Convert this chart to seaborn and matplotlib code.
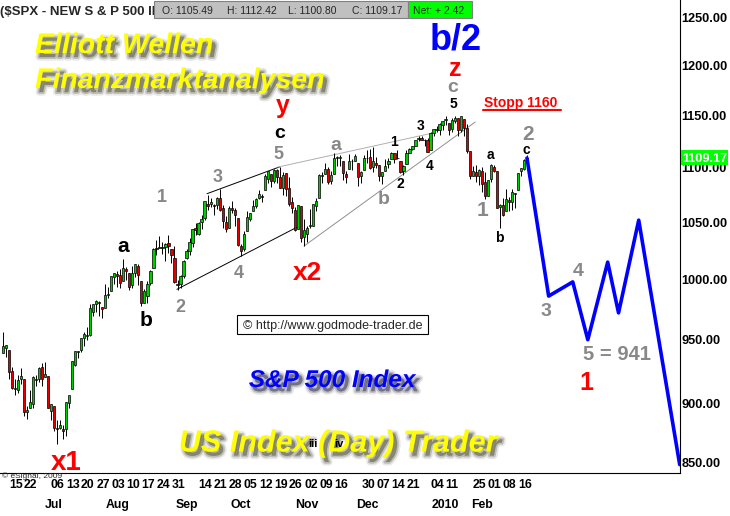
import numpy as np
import pandas as pd
import matplotlib
matplotlib.use("Agg")
import matplotlib.pyplot as plt
import matplotlib.patheffects as pe
from matplotlib.patches import Rectangle
from matplotlib.lines import Line2D
from matplotlib.ticker import NullLocator, NullFormatter
import seaborn as sns

# ---------------- data ----------------
holidays = ["2009-07-03", "2009-09-07", "2009-11-26", "2009-12-25",
            "2010-01-01", "2010-01-18", "2010-02-15"]
dates = [d for d in pd.bdate_range("2009-06-11", "2010-02-19")
         if d.strftime("%Y-%m-%d") not in holidays]

opens = [
    939, 943, 942, 925, 911, 910, 919, 919, 893, 896, 899, 918, 919, 928,
    920, 921, 894, 898, 881, 881, 880, 880, 900, 911, 930, 940, 942, 951, 953, 954, 973, 979, 981, 977, 976, 987,
    990, 1002, 1005, 1004, 999, 1009, 1006, 995, 1006, 1012, 999, 980, 986, 997, 1010, 1027, 1027, 1027, 1028, 1032, 1026,
    1019, 996, 996, 1003, 1019, 1025, 1032, 1045, 1040, 1050, 1054, 1067, 1067, 1066, 1066, 1072, 1063, 1050, 1045, 1063, 1061,
    1054, 1029, 1026, 1042, 1053, 1060, 1065, 1072, 1074, 1079, 1090, 1094, 1088, 1098, 1091, 1081, 1095, 1081, 1068, 1061, 1044, 1065,
    1037, 1040, 1047, 1047, 1065, 1072, 1092, 1094, 1099, 1088, 1094, 1109, 1109, 1106, 1094, 1099, 1106, 1106, 1105, 1092,
    1098, 1109, 1110, 1101, 1105, 1103, 1092, 1097, 1104, 1108, 1114, 1109, 1106, 1097, 1104, 1114, 1118, 1121, 1127, 1128, 1126, 1126,
    1117, 1133, 1136, 1136, 1141, 1146, 1143, 1137, 1145, 1148, 1136, 1147, 1138, 1116, 1092, 1096, 1092, 1097, 1087,
    1074, 1090, 1101, 1097, 1064, 1066, 1060, 1070, 1068, 1076, 1079, 1097, 1099, 1105,
]
highs = [
    956, 946, 942, 928, 919, 922, 927, 919, 898, 910, 921, 922, 928, 931,
    932, 921, 899, 898, 887, 887, 883, 901, 905, 933, 941, 941, 951, 956, 960, 979, 979, 983, 982, 977, 996, 994,
    1003, 1006, 1007, 1009, 1018, 1011, 1006, 1012, 1013, 1013, 999, 992, 999, 1008, 1027, 1034, 1038, 1033, 1032, 1039, 1026,
    1029, 1000, 1004, 1017, 1026, 1036, 1044, 1049, 1050, 1057, 1068, 1075, 1072, 1067, 1073, 1080, 1066, 1056, 1065, 1069, 1063,
    1054, 1031, 1042, 1060, 1058, 1070, 1072, 1079, 1076, 1094, 1097, 1094, 1099, 1099, 1101, 1096, 1095, 1091, 1073, 1064, 1066, 1065,
    1053, 1047, 1062, 1067, 1072, 1094, 1096, 1105, 1101, 1097, 1114, 1111, 1112, 1106, 1097, 1113, 1108, 1113, 1105, 1097,
    1112, 1117, 1118, 1120, 1110, 1103, 1096, 1108, 1109, 1115, 1114, 1117, 1106, 1103, 1117, 1119, 1121, 1126, 1130, 1130, 1127, 1128,
    1134, 1137, 1140, 1143, 1145, 1150, 1143, 1148, 1150, 1148, 1150, 1147, 1142, 1116, 1102, 1103, 1099, 1101, 1096,
    1089, 1104, 1103, 1097, 1067, 1072, 1080, 1073, 1080, 1077, 1095, 1100, 1108, 1112,
]
lows = [
    939, 936, 919, 911, 906, 908, 915, 890, 888, 896, 896, 913, 916, 913,
    920, 896, 887, 879, 869, 880, 873, 875, 896, 911, 929, 935, 940, 945, 950, 953, 969, 973, 969, 968, 976, 984,
    990, 996, 994, 993, 999, 1000, 991, 993, 1002, 995, 978, 980, 980, 995, 1010, 1021, 1027, 1022, 1016, 1023, 1014,
    997, 991, 993, 1001, 1018, 1021, 1028, 1039, 1039, 1044, 1052, 1061, 1064, 1057, 1062, 1060, 1045, 1041, 1045, 1058, 1047,
    1029, 1020, 1025, 1042, 1051, 1060, 1063, 1071, 1068, 1079, 1086, 1082, 1086, 1086, 1081, 1075, 1074, 1065, 1058, 1042, 1044, 1033,
    1029, 1033, 1045, 1047, 1060, 1072, 1086, 1094, 1085, 1085, 1094, 1102, 1102, 1089, 1086, 1099, 1098, 1106, 1083, 1086,
    1098, 1105, 1099, 1096, 1100, 1088, 1085, 1097, 1100, 1108, 1105, 1108, 1095, 1093, 1104, 1114, 1117, 1121, 1125, 1126, 1121, 1115,
    1117, 1130, 1134, 1131, 1136, 1141, 1131, 1134, 1143, 1130, 1134, 1130, 1114, 1090, 1092, 1087, 1084, 1078, 1071,
    1074, 1087, 1096, 1063, 1045, 1056, 1060, 1060, 1061, 1063, 1079, 1092, 1098, 1101,
]
closes = [
    945, 946, 924, 912, 911, 918, 921, 893, 895, 901, 920, 919, 927, 919,
    923, 896, 899, 881, 880, 883, 879, 901, 906, 933, 941, 940, 951, 955, 954, 976, 979, 982, 980, 975, 987, 987,
    1003, 1006, 1003, 997, 1010, 1007, 994, 1006, 1013, 1004, 980, 990, 996, 1007, 1026, 1026, 1028, 1028, 1031, 1029, 1021,
    998, 995, 1003, 1016, 1025, 1033, 1044, 1043, 1049, 1053, 1069, 1065, 1068, 1065, 1072, 1061, 1051, 1044, 1063, 1061, 1057,
    1030, 1025, 1040, 1055, 1058, 1065, 1071, 1076, 1073, 1092, 1097, 1088, 1098, 1091, 1081, 1093, 1080, 1067, 1063, 1043, 1066, 1036,
    1043, 1045, 1047, 1067, 1069, 1093, 1093, 1099, 1087, 1093, 1109, 1110, 1110, 1095, 1091, 1106, 1106, 1111, 1091, 1096,
    1109, 1109, 1100, 1106, 1103, 1092, 1096, 1102, 1106, 1114, 1108, 1109, 1096, 1102, 1114, 1118, 1121, 1126, 1128, 1126, 1126, 1115,
    1133, 1137, 1137, 1142, 1145, 1147, 1136, 1146, 1148, 1136, 1150, 1138, 1116, 1092, 1097, 1092, 1098, 1085, 1074,
    1089, 1103, 1097, 1063, 1066, 1057, 1071, 1068, 1078, 1076, 1095, 1100, 1107, 1109,
]

week_tick_dates = ["2009-06-15", "2009-06-22", "2009-07-06", "2009-07-13", "2009-07-20", "2009-07-27",
                   "2009-08-03", "2009-08-10", "2009-08-17", "2009-08-24", "2009-08-31", "2009-09-14",
                   "2009-09-21", "2009-09-28", "2009-10-05", "2009-10-12", "2009-10-19", "2009-10-26",
                   "2009-11-02", "2009-11-09", "2009-11-16", "2009-11-30", "2009-12-07", "2009-12-14",
                   "2009-12-21", "2010-01-04", "2010-01-11", "2010-01-25", "2010-02-01", "2010-02-08",
                   "2010-02-16"]
week_tick_labels = ["15", "22", "06", "13", "20", "27", "03", "10", "17", "24", "31", "14", "21", "28",
                    "05", "12", "19", "26", "02", "09", "16", "30", "07", "14", "21", "04", "11", "25",
                    "01", "08", "16"]
month_label_dates = ["2009-07-07", "2009-08-05", "2009-09-08", "2009-10-02", "2009-11-03",
                     "2009-12-02", "2010-01-11", "2010-01-28"]
month_labels = ["Jul", "Aug", "Sep", "Oct", "Nov", "Dec", "2010", "Feb"]
y_ticks = [850, 900, 950, 1000, 1050, 1100, 1150, 1200, 1250]

# projected wave path (trading-day index, price)
proj_idx = [174, 181.2, 189.2, 194.2, 200.8, 204.4, 211.1, 224.7]
proj_price = [1109.17, 986, 998, 950, 1015, 972, 1052, 854]

# channel / trend lines (trading-day index, price)
black_lower = ([57.8, 97.6], [991.7, 1045.6])
black_upper = ([67.8, 92.0], [1076, 1101])
gray_upper = ([91.3, 142.5], [1100.7, 1133])
gray_lower = ([100.0, 156.8], [1029, 1143.8])

# ---------------- figure ----------------
sns.set_theme(style="white")
plt.rcParams["font.family"] = ["Liberation Sans", "DejaVu Sans"]

W, H = 730, 516
fig = plt.figure(figsize=(W / 100, H / 100), dpi=100)
fig.patch.set_facecolor("white")
ax = fig.add_axes([0, 43 / H, 680 / W, 473 / H])
ax.set_facecolor("white")

df = pd.DataFrame({"date": dates, "open": opens, "high": highs, "low": lows, "close": closes})
df["i"] = np.arange(len(df))
pos = {d: i for i, d in enumerate(df["date"])}
up = df["close"] >= df["open"]

ax.vlines(df["i"], df["low"], df["high"], color="black", lw=0.7, zorder=2)
ax.bar(df["i"], (df["close"] - df["open"]).abs().clip(lower=0.5),
       bottom=np.minimum(df["open"], df["close"]), width=0.75,
       color=np.where(up, "#00cc00", "#e00000"), edgecolor="black", linewidth=0.5, zorder=3)

# trend lines
ax.plot(*black_lower, color="black", lw=0.7, zorder=1)
ax.plot(*black_upper, color="black", lw=0.7, zorder=1)
ax.plot(*gray_upper, color="#b0b0b0", lw=0.7, zorder=1)
ax.plot(*gray_lower, color="#909090", lw=0.7, zorder=1)

# projection
proj = pd.DataFrame({"i": proj_idx, "p": proj_price})
sns.lineplot(data=proj, x="i", y="p", color="#0000ff", lw=2.6, ax=ax, sort=False,
             estimator=None, zorder=4)

ax.set_yscale("log")
ax.set_xlim(-0.92, 224.8)
ax.set_ylim(847.9, 1269.3)
ax.set_xlabel("")
ax.set_ylabel("")

ax.yaxis.tick_right()
ax.set_yticks(y_ticks)
ax.set_yticklabels([f"{v:.2f}" for v in y_ticks])
ax.yaxis.set_minor_locator(NullLocator())
ax.yaxis.set_minor_formatter(NullFormatter())
ax.tick_params(axis="y", which="both", length=0, pad=1.2, labelsize=9.2, colors="black")
for lbl in ax.get_yticklabels():
    lbl.set_fontweight("bold")
ax.get_yticklabels()[0].set_va("bottom")

ax.xaxis.remove_overlapping_locs = False
ax.set_xticks([pos[pd.Timestamp(d)] for d in week_tick_dates])
ax.set_xticklabels(week_tick_labels)
ax.set_xticks([pos[pd.Timestamp(d)] for d in month_label_dates], minor=True)
ax.set_xticklabels(month_labels, minor=True)
ax.tick_params(axis="x", which="major", length=0, pad=4.0, labelsize=8.8, colors="black")
ax.tick_params(axis="x", which="minor", length=0, pad=18.5, labelsize=8.8, colors="black")
for lbl in ax.get_xticklabels():
    lbl.set_fontweight("bold")
    lbl.set_ha("left")
for lbl in ax.get_xticklabels(minor=True):
    lbl.set_fontweight("bold")
    lbl.set_ha("center")

for side in ["left", "top"]:
    ax.spines[side].set_visible(False)
for side in ["right", "bottom"]:
    ax.spines[side].set_visible(True)
    ax.spines[side].set_color("black")
    ax.spines[side].set_linewidth(0.8)
ax.grid(False)


# ---------------- overlays ----------------
def ftxt(x, y, s, **kw):
    kw.setdefault("ha", "center")
    kw.setdefault("va", "center_baseline")
    return fig.text(x / W, 1 - y / H, s, **kw)


def frect(x0, y0, x1, y1, **kw):
    r = Rectangle((x0 / W, 1 - y1 / H), (x1 - x0) / W, (y1 - y0) / H,
                  transform=fig.transFigure, **kw)
    fig.patches.append(r)
    return r


def shadow():
    return [pe.Stroke(offset=(2.6, -3.0), linewidth=5, foreground="#a0a0a0", alpha=0.25),
            pe.Stroke(offset=(2.6, -3.0), linewidth=2.5, foreground="#8a8a8a", alpha=0.45),
            pe.SimplePatchShadow(offset=(2.6, -3.0), shadow_rgbFace="#707070", alpha=0.75),
            pe.Normal()]


# header
ftxt(0, 10, "($SPX - NEW S & P 500 II", ha="left", fontsize=9.5, fontweight="bold")
frect(154, 1, 408, 18, facecolor="#c0c0c0", edgecolor="#808080", lw=0.8, zorder=5)
frect(408, 1, 472, 18, facecolor="#00ff00", edgecolor="#808080", lw=0.8, zorder=5)
for x, s in [(162, "O: 1105.49"), (227, "H: 1112.42"), (288, "L: 1100.80"),
             (352, "C: 1109.17"), (413, "Net: + 2.42")]:
    ftxt(x, 10.5, s, ha="left", fontsize=7.5, zorder=6)

# current price label on the price axis
frect(681, 150, 728, 165, facecolor="#00ff00", edgecolor="none", zorder=5)
ftxt(704.5, 158, "1109.17", fontsize=9.2, fontweight="bold", color="white", zorder=6)

# titles with shadows
ftxt(35, 43, "Elliott Wellen", ha="left", fontsize=20.5, fontweight="bold", style="italic",
     color="#ffff00", path_effects=shadow())
ftxt(35, 78, "Finanzmarktanalysen", ha="left", fontsize=20.5, fontweight="bold", style="italic",
     color="#ffff00", path_effects=shadow())
ftxt(332, 378, "S&P 500 Index", fontsize=17.5, fontweight="bold", style="italic",
     color="#0000ff", path_effects=shadow())
ftxt(338, 440, "US Index (Day) Trader", fontsize=22, fontweight="bold", style="italic",
     color="#ffff00", path_effects=shadow())
ftxt(313, 443, "iii", fontsize=8, fontweight="bold", color="black")
ftxt(339, 443, "iv", fontsize=8, fontweight="bold", color="black")

# copyright box
frect(237, 315, 428, 334, facecolor="white", edgecolor="black", lw=0.8, zorder=5)
ftxt(332.5, 325, "\u00a9 http://www.godmode-trader.de", fontsize=9, zorder=6)
ftxt(2, 475, "\u00a9 eSignal, 2009", ha="left", fontsize=6)

# wave labels
GRAY = "#888888"
for s, x, y, sz in [("1", 162, 196, 13), ("2", 180, 305, 13), ("3", 218, 176, 13),
                    ("4", 239, 271, 13), ("5", 278, 152, 13), ("a", 336, 144, 14),
                    ("b", 384, 198, 14), ("c", 453, 85, 14), ("1", 483, 209, 15),
                    ("2", 528, 132, 15), ("3", 546, 309, 14), ("4", 578, 270, 14),
                    ("5 = 941", 617, 353, 14.5)]:
    ftxt(x, y, s, fontsize=sz, fontweight="bold", color=GRAY)

for s, x, y, sz in [("a", 123, 245, 15), ("b", 146, 318, 15), ("c", 280, 132, 14),
                    ("1", 394, 141, 10), ("2", 400, 182, 10), ("3", 421, 125, 10),
                    ("4", 430, 164, 10), ("5", 453, 103, 10), ("a", 490, 153, 10),
                    ("b", 499, 237, 10), ("c", 526, 148, 10)]:
    ftxt(x, y, s, fontsize=sz, fontweight="bold", color="black")

RED = "#ff0000"
for s, x, y, sz in [("x1", 66, 460, 20), ("x2", 307, 270, 19), ("y", 283, 104, 18),
                    ("z", 455, 66, 18), ("1", 586, 381, 18)]:
    ftxt(x, y, s, fontsize=sz, fontweight="bold", color=RED)

ftxt(521, 102, "Stopp 1160", fontsize=10, fontweight="bold", color=RED)
fig.add_artist(Line2D([483 / W, 561 / W], [1 - 110 / H, 1 - 110 / H], color=RED, lw=1.5,
                      transform=fig.transFigure))
ftxt(456, 36, "b/2", fontsize=26, fontweight="bold", color="#0000ff")

fig.savefig("out.png", dpi=100, facecolor="white")
